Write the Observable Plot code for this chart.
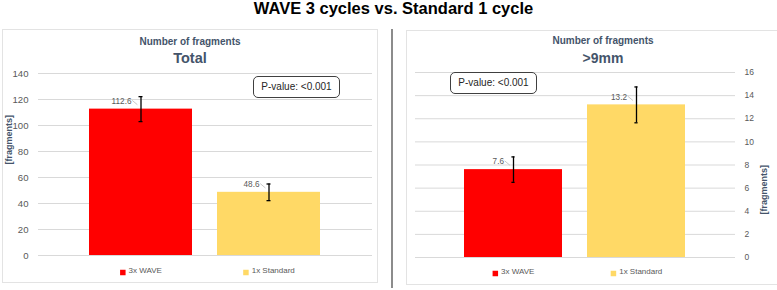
<!DOCTYPE html>
<html><head><meta charset="utf-8">
<script src="https://cdn.jsdelivr.net/npm/d3@7"></script>
<script src="https://cdn.jsdelivr.net/npm/@observablehq/plot@0.6"></script>
<style>
body{margin:0;background:#fff;font-family:"Liberation Sans",Arial,sans-serif;}
#wrap{position:relative;width:777px;height:290px;overflow:hidden;background:#fff}
.abs{position:absolute;white-space:nowrap}
.box{position:absolute;box-sizing:border-box;border:1px solid #e3e3e3}
.ptitle{position:absolute;text-align:center;font-weight:bold;color:#44546a}
.pval{position:absolute;box-sizing:border-box;border:1px solid #404040;border-radius:5px;font-size:10px;color:#262626;text-align:center;line-height:20px;background:#fff}
.svgwrap{position:absolute}
.svgwrap svg{overflow:visible}
</style></head><body><div id="wrap"></div>
<script>
// ---- data ----
const categories = ["3x WAVE", "1x Standard"];
const barColors = ["#ff0000", "#ffd966"];
const totalValues = [112.6, 48.6];
const totalErrors = [9.6, 6.4];
const over9Values = [7.6, 13.2];
const over9Errors = [1.1, 1.55];
const totalTicks = [0, 20, 40, 60, 80, 100, 120, 140];
const over9Ticks = [0, 2, 4, 6, 8, 10, 12, 14, 16];
const mainTitle = "WAVE 3 cycles vs. Standard 1 cycle";
const panelHeading = "Number of fragments";
const panelSubtitles = ["Total", ">9mm"];
const pValueText = "P-value: <0.001";
const axisTitle = "[fragments]";

const wrap = document.getElementById("wrap");
function add(tag, cls, css, text) {
  const el = document.createElement(tag);
  if (cls) el.className = cls;
  Object.assign(el.style, css);
  if (text != null) el.textContent = text;
  wrap.appendChild(el);
  return el;
}

// title
add("div", "abs", {left: "5px", top: "0px", width: "777px", textAlign: "center", fontWeight: "bold", fontSize: "16.5px", lineHeight: "16.5px", color: "#000"}, mainTitle);
// panel boxes
add("div", "box", {left: "2px", top: "29px", width: "376px", height: "254px"});
add("div", "box", {left: "406px", top: "30px", width: "400px", height: "255px"});
// divider
add("div", "abs", {left: "391px", top: "29px", width: "2px", height: "259px", background: "#8c8c8c"});

const canvas = document.createElement("canvas");
const ctx = canvas.getContext("2d");
function textWidth(t, font) { ctx.font = font; return ctx.measureText(t).width; }

const leaderShape = {draw(context, l) { context.moveTo(0, 0); context.lineTo(0, -l); }};

function panel(cfg) {
  const data = categories.map((c, i) => ({cat: c, value: cfg.values[i], err: cfg.errors[i]}));
  const legendFont = 8;
  const sq = 5.5, gap = 3;
  const legendMarks = categories.flatMap((c, i) => {
    const w = textWidth(c, `${legendFont}px "Liberation Sans"`);
    const G = sq + gap + w;
    return [
      Plot.dot([c], {x: d => d, frameAnchor: "bottom", dy: cfg.legendDy, dx: -G / 2 + sq / 2, symbol: "square", r: 3.1, fill: barColors[i], stroke: "none"}),
      Plot.text([c], {x: d => d, frameAnchor: "bottom", dy: cfg.legendDy, dx: -G / 2 + sq + gap, text: d => d, textAnchor: "start", fontSize: legendFont, fill: "#595959"})
    ];
  });
  const chart = Plot.plot({
    width: cfg.width, height: cfg.height,
    marginLeft: cfg.marginLeft, marginRight: cfg.marginRight, marginTop: cfg.marginTop, marginBottom: cfg.marginBottom,
    style: {fontFamily: '"Liberation Sans", Arial, sans-serif', background: "transparent", overflow: "visible"},
    x: {type: "band", domain: categories, paddingInner: cfg.padIn, paddingOuter: cfg.padOut, axis: null},
    y: {domain: [0, cfg.yMax], axis: null},
    color: {domain: categories, range: barColors},
    marks: [
      Plot.gridY(cfg.ticks, {stroke: "#d9d9d9", strokeOpacity: 1, strokeWidth: 1}),
      Plot.barY(data, {x: "cat", y: "value", fill: "cat"}),
      Plot.ruleX(data, {x: "cat", y1: d => d.value - d.err, y2: d => d.value + d.err, stroke: "#000", strokeWidth: 1.3}),
      Plot.tickY(data, {x: "cat", y: d => d.value - d.err, insetLeft: cfg.capInset, insetRight: cfg.capInset, stroke: "#000", strokeWidth: 1.3}),
      Plot.tickY(data, {x: "cat", y: d => d.value + d.err, insetLeft: cfg.capInset, insetRight: cfg.capInset, stroke: "#000", strokeWidth: 1.3}),
      Plot.vector(data, {x: "cat", y: "value", dx: -8.5, dy: -8.5, length: 6, rotate: 130, anchor: "start", shape: leaderShape, stroke: "#bfbfbf", strokeWidth: 0.8}),
      Plot.text(data, {x: "cat", y: "value", text: d => d.value.toFixed(1), textAnchor: "end", dx: -9.5, dy: -8, fontSize: 8.2, fill: "#595959"}),
      Plot.axisY(cfg.ticks, {anchor: cfg.anchor, tickSize: 0, tickPadding: cfg.tickPadding, fontSize: cfg.tickFont, color: "#595959", label: null}),
      Plot.text([axisTitle], {frameAnchor: cfg.anchor, text: d => d, rotate: -90, dx: cfg.titleDx, fontWeight: "bold", fontSize: 9, fill: "#44546a"}),
      ...legendMarks
    ]
  });
  const holder = add("div", "svgwrap", {left: cfg.left + "px", top: cfg.top + "px"});
  holder.appendChild(chart);
}

panel({values: totalValues, errors: totalErrors, ticks: totalTicks, yMax: 140,
  left: 2, top: 30, width: 376, height: 253, marginLeft: 36, marginRight: 6, marginTop: 43, marginBottom: 28,
  padIn: 0.195, padOut: 0.402, capInset: 49.5, anchor: "left", tickPadding: 10, tickFont: 9.6, titleDx: -29, legendDy: 17});
panel({values: over9Values, errors: over9Errors, ticks: over9Ticks, yMax: 16,
  left: 406, top: 30, width: 371, height: 255, marginLeft: 9, marginRight: 42, marginTop: 42, marginBottom: 28,
  padIn: 0.2, padOut: 0.396, capInset: 47.4, anchor: "right", tickPadding: 9, tickFont: 8.5, titleDx: 29, legendDy: 16});

// panel headings
add("div", "ptitle", {left: "2px", width: "376px", top: "35.5px", fontSize: "10px", lineHeight: "12px"}, panelHeading);
add("div", "ptitle", {left: "2px", width: "376px", top: "50.5px", fontSize: "14.5px", lineHeight: "15px"}, panelSubtitles[0]);
add("div", "ptitle", {left: "406px", width: "394px", top: "34.5px", fontSize: "10px", lineHeight: "12px"}, panelHeading);
add("div", "ptitle", {left: "406px", width: "394px", top: "50.5px", fontSize: "14px", lineHeight: "15px"}, panelSubtitles[1]);
// p-value boxes
add("div", "pval", {left: "253px", top: "76px", width: "87px", height: "22px"}, pValueText);
add("div", "pval", {left: "450px", top: "72px", width: "87px", height: "22px"}, pValueText);
</script></body></html>
